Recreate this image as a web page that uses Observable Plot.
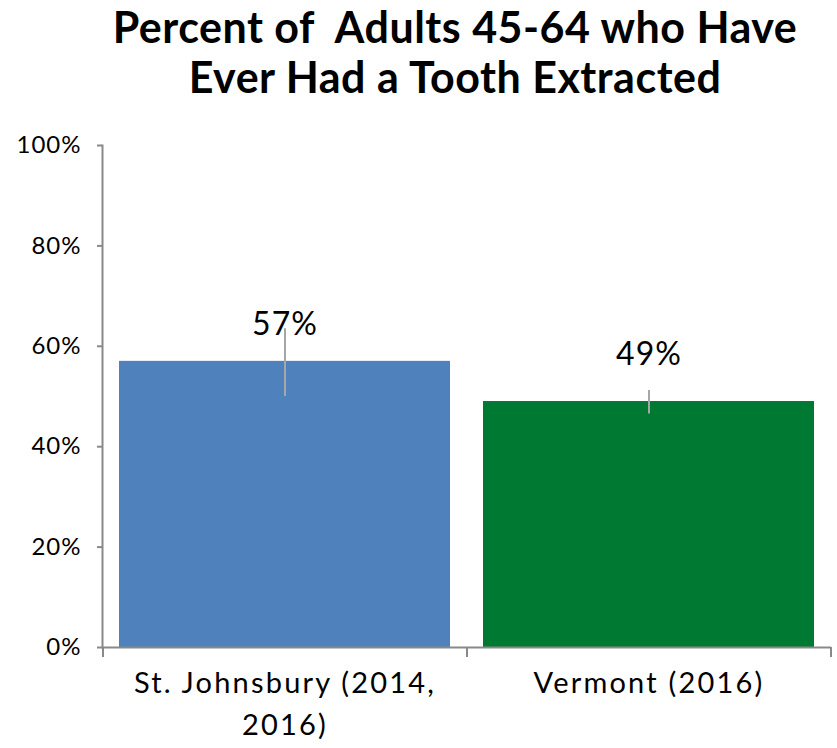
<!DOCTYPE html>
<html><head><meta charset="utf-8">
<script src="https://cdn.jsdelivr.net/npm/d3@7"></script>
<script src="https://cdn.jsdelivr.net/npm/@observablehq/plot@0.6"></script>
<style>
body{margin:0;background:#fff;font-family:Lato,sans-serif;}
#title{width:837px;box-sizing:border-box;padding-left:73px;height:120px;padding-top:2px;font-weight:bold;font-size:43px;letter-spacing:0.5px;line-height:50px;text-align:center;white-space:pre;color:#000;}
#chart g[aria-label="x-axis tick label"] text{letter-spacing:2.2px;}
#chart g[aria-label="y-axis tick label"] text{letter-spacing:1px;}
#chart g[aria-label="text"] text{letter-spacing:1px;}
</style></head><body>
<div id="title">Percent of  Adults 45-64 who Have
Ever Had a Tooth Extracted</div>
<div id="chart"></div>
<script>
const categories = ["St. Johnsbury (2014,\n2016)", "Vermont (2016)"];
const values = [57, 49];
const lower = [50, 46.5];
const upper = [63.5, 51.2];
const yTicks = [0, 20, 40, 60, 80, 100];
const colors = ["#4F81BD", "#007A33"];

const data = categories.map((c, i) => ({cat: c, value: values[i], lo: lower[i], hi: upper[i]}));
const labelDy = [-37, -47];
const axisColor = "#898989";

function build(step) {
  const marks = [
    Plot.barY(data, {x: "cat", y: "value", fill: "cat"}),
    Plot.ruleX(data, {x: "cat", y1: "lo", y2: "hi", stroke: "#A6A6A6", strokeWidth: 2}),
    ...data.map((d, i) => Plot.text([d], {x: "cat", y: "value", text: d => d.value + "%", dy: labelDy[i], fontSize: 32, fill: "#000"})),
    Plot.frame({anchor: "left", stroke: axisColor, strokeWidth: 2}),
    Plot.ruleY([0], {stroke: axisColor, strokeWidth: 2}),
    Plot.axisY({ticks: yTicks, tickFormat: d => d + "%", tickSize: 5, tickPadding: 16, fontSize: 24, stroke: axisColor, strokeWidth: 2, fill: "#000", label: null}),
    Plot.axisX({tickSize: 0, tickPadding: 16, fontSize: 29, lineHeight: 1.45, fill: "#000", label: null})
  ];
  if (step) {
    marks.push(Plot.ruleX(categories, {x: d => d, dx: -step / 2, y1: 0, y2: -2, stroke: axisColor, strokeWidth: 2}));
    marks.push(Plot.ruleX([categories[categories.length - 1]], {x: d => d, dx: step / 2, y1: 0, y2: -2, stroke: axisColor, strokeWidth: 2}));
  }
  return Plot.plot({
    width: 837, height: 628,
    marginTop: 25, marginBottom: 101, marginLeft: 102, marginRight: 6,
    style: {fontFamily: "Lato, sans-serif", background: "#fff", color: "#000"},
    x: {domain: categories, paddingInner: 0.09, paddingOuter: 0.045, axis: null},
    y: {domain: [0, 100], axis: null},
    color: {domain: categories, range: colors},
    marks
  });
}
const first = build(0);
const step = first.scale("x").step;
document.getElementById("chart").appendChild(build(step));
</script>
</body></html>
